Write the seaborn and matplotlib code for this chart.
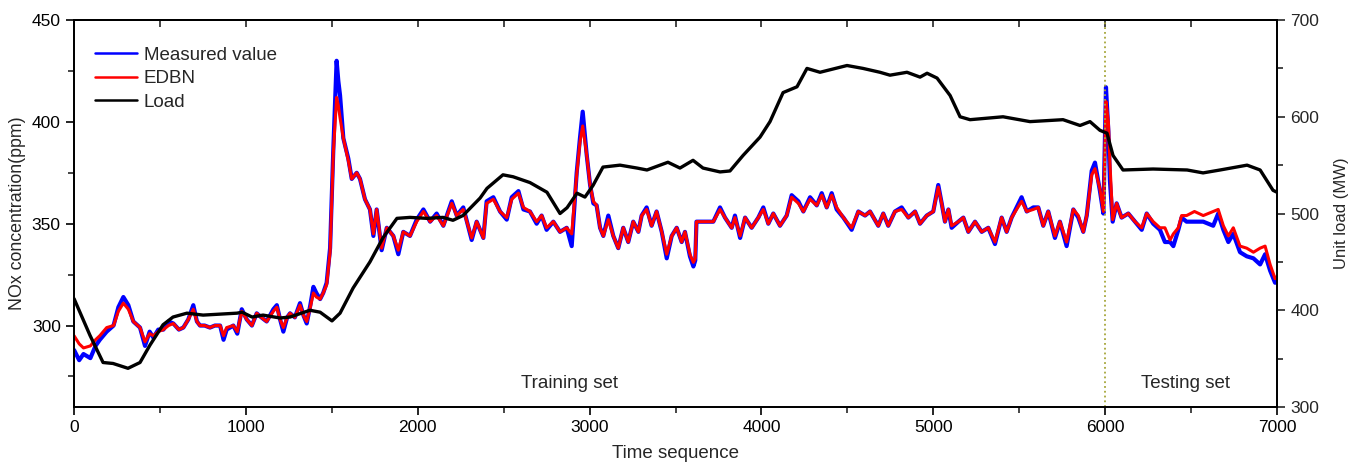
import numpy as np
import pandas as pd
import matplotlib
matplotlib.use("Agg")
import matplotlib.pyplot as plt
from matplotlib.ticker import MultipleLocator
from matplotlib.lines import Line2D
import seaborn as sns

# ---------------- data ----------------
nox_time = [0, 30, 55, 95, 125, 150, 190, 230, 258, 287, 316, 345, 384, 413, 440, 462, 490, 520,
            550, 578, 610, 636, 665, 694, 715, 733, 760, 791, 820, 850, 870, 888, 927, 950, 976,
            1005, 1035, 1063, 1090, 1121, 1160, 1180, 1199, 1218, 1240, 1257, 1285, 1315, 1335,
            1354, 1375, 1393, 1410, 1432, 1450, 1470, 1490, 1509, 1528, 1538, 1548, 1567, 1596,
            1616, 1645, 1664, 1693, 1722, 1742, 1761, 1790, 1820, 1858, 1887, 1916, 1955, 1994,
            2033, 2072, 2110, 2149, 2198, 2227, 2265, 2314, 2343, 2382, 2401, 2440, 2479, 2518,
            2547, 2586, 2615, 2653, 2692, 2721, 2750, 2789, 2828, 2867, 2896, 2925, 2944, 2960,
            2983, 3003, 3022, 3041, 3061, 3080, 3109, 3138, 3167, 3196, 3225, 3254, 3284, 3303,
            3332, 3361, 3390, 3420, 3449, 3478, 3507, 3536, 3555, 3584, 3604, 3615, 3622, 3662,
            3720, 3759, 3788, 3827, 3846, 3876, 3905, 3943, 3982, 4011, 4040, 4069, 4108, 4147,
            4176, 4215, 4244, 4283, 4322, 4351, 4380, 4409, 4438, 4477, 4525, 4564, 4603, 4632,
            4680, 4709, 4738, 4777, 4816, 4855, 4894, 4923, 4962, 5000, 5029, 5049, 5068, 5088,
            5107, 5146, 5175, 5204, 5243, 5282, 5320, 5359, 5398, 5427, 5456, 5485, 5514, 5544,
            5582, 5611, 5640, 5669, 5708, 5737, 5776, 5815, 5844, 5873, 5893, 5922, 5941, 5970,
            5990, 6005, 6019, 6028, 6044, 6067, 6096, 6135, 6174, 6213, 6242, 6280, 6319, 6348,
            6378, 6397, 6426, 6445, 6474, 6520, 6571, 6629, 6658, 6688, 6717, 6746, 6785, 6824,
            6863, 6902, 6931, 6960, 6989, 7000]

nox_measured = [288, 283, 286, 284, 290, 293, 297, 300, 309, 314, 310, 302, 299, 290, 297, 294, 298, 298,
                302, 301, 298, 299, 303, 310, 302, 300, 300, 299, 300, 300, 293, 298, 300, 296, 308,
                303, 300, 306, 304, 302, 308, 310, 303, 297, 304, 306, 304, 311, 305,
                301, 310, 319, 316, 313, 316, 321, 338, 387, 430, 420, 413, 392, 382,
                372, 375, 372, 362, 357, 344, 357, 337, 348, 344, 335, 346, 344, 352,
                357, 351, 355, 349, 361, 354, 358, 342, 351, 343, 361, 363, 356, 352,
                363, 366, 357, 356, 350, 354, 347, 351, 346, 348, 339, 375, 392, 405,
                384, 369, 360, 359, 348, 344, 354, 344, 338, 348, 341, 351, 346, 354,
                358, 349, 356, 346, 333, 344, 348, 341, 346, 334, 329, 332, 351, 351,
                351, 358, 353, 348, 354, 343, 353, 348, 353, 358, 350, 355, 349, 354,
                364, 361, 356, 363, 359, 365, 358, 365, 357, 353, 347, 356, 354, 356,
                349, 355, 349, 356, 358, 353, 356, 350, 354, 356, 369, 360, 351, 357,
                348, 351, 353, 346, 351, 346, 348, 340, 353, 346, 353, 358, 363, 356,
                358, 358, 349, 356, 343, 351, 339, 357, 353, 346, 354, 376, 380, 366,
                355, 417, 395, 371, 351, 360, 353, 355, 351, 347, 355, 350, 347, 341,
                341, 339, 347, 353, 351, 351, 351, 349, 355, 347, 341, 345, 336, 334,
                333, 330, 335, 327, 321, 322]

nox_edbn = [295, 291, 289, 290, 293, 295, 299, 300, 307, 311, 308, 302, 299, 292, 296, 295, 297, 298,
            300, 301, 298, 299, 303, 308, 302, 300, 300, 299, 300, 300, 295, 299, 300, 297, 307,
            303, 300, 306, 304, 302, 307, 309, 303, 299, 304, 306, 304, 310, 305,
            302, 309, 316, 314, 313, 316, 320, 336, 385, 412, 408, 402, 392, 381,
            372, 375, 372, 362, 357, 345, 357, 338, 348, 344, 337, 346, 344, 351,
            356, 351, 354, 349, 360, 354, 357, 343, 351, 343, 360, 362, 356, 353,
            362, 365, 358, 356, 351, 354, 348, 351, 346, 348, 345, 374, 390, 398,
            384, 369, 361, 359, 348, 344, 352, 344, 338, 348, 341, 351, 346, 354,
            357, 349, 356, 346, 335, 344, 348, 341, 346, 335, 331, 333, 351, 351,
            351, 357, 353, 348, 353, 344, 353, 348, 353, 357, 350, 355, 349, 354,
            363, 360, 356, 362, 359, 364, 358, 364, 358, 353, 348, 356, 354, 356,
            349, 355, 349, 356, 357, 353, 356, 350, 354, 356, 368, 360, 351, 357,
            349, 351, 353, 346, 351, 346, 348, 341, 353, 346, 353, 357, 361, 356,
            357, 358, 349, 356, 344, 351, 341, 357, 354, 346, 354, 374, 377, 367,
            356, 410, 400, 380, 352, 360, 353, 355, 351, 348, 355, 351, 348, 348,
            342, 345, 348, 354, 354, 356, 354, 356, 357, 349, 344, 348, 339, 338,
            336, 338, 339, 330, 323, 324]

load_time = [0, 93, 169, 227, 314, 384, 442, 518, 576, 657, 751, 948, 978, 1036, 1100, 1199, 1257,
             1373, 1432, 1501, 1548, 1624, 1722, 1798, 1879, 1955, 2054, 2147, 2205, 2264, 2363,
             2403, 2496, 2555, 2653, 2752, 2828, 2869, 2927, 2973, 3020, 3078, 3177, 3276, 3334,
             3456, 3526, 3602, 3660, 3759, 3817, 3893, 3992, 4050, 4126, 4180, 4207, 4265, 4341,
             4498, 4591, 4690, 4748, 4847, 4923, 4964, 5022, 5098, 5156, 5214, 5406, 5563, 5755,
             5854, 5912, 5970, 6011, 6046, 6104, 6279, 6477, 6570, 6669, 6826, 6902, 6977, 7000]
load_values = [412, 374, 346, 345, 340, 346, 364, 385, 393, 397, 395, 397, 398, 393, 395, 392, 393,
               400, 398, 389, 397, 423, 450, 475, 495, 496, 495, 496, 493, 498, 516,
               526, 540, 538, 532, 522, 500, 506, 521, 517, 529, 548, 550, 547, 545,
               553, 547, 555, 547, 543, 544, 560, 579, 595, 625, 629, 631, 650, 646,
               653, 650, 646, 643, 646, 641, 645, 640, 622, 600, 597, 600, 595, 597,
               591, 595, 586, 583, 560, 545, 546, 545, 542, 545, 550, 545, 524, 522]

series_labels = ["Measured value", "EDBN", "Load"]
split_time = 6000
region_labels = ["Training set", "Testing set"]

# ---------------- figure ----------------
sns.set_style("ticks")
plt.rcParams["font.family"] = ["Liberation Sans", "DejaVu Sans"]

fig = plt.figure(figsize=(13.51, 4.66), dpi=100)
ax = fig.add_axes([0.0548, 0.1266, 0.8904, 0.8304])
ax2 = ax.twinx()

nox_df = pd.DataFrame({"t": nox_time, "measured": nox_measured, "edbn": nox_edbn})
load_df = pd.DataFrame({"t": load_time, "load": load_values})

sns.lineplot(data=nox_df, x="t", y="measured", ax=ax, color="#0000ff", lw=3.0,
             estimator=None, sort=False, legend=False)
sns.lineplot(data=nox_df, x="t", y="edbn", ax=ax, color="#ff0000", lw=2.2,
             estimator=None, sort=False, legend=False)
sns.lineplot(data=load_df, x="t", y="load", ax=ax2, color="black", lw=2.4,
             estimator=None, sort=False, legend=False)

ax.axvline(split_time, color="#a6a63a", ls=":", lw=1.3)

ax.set_xlim(0, 7000)
ax.set_ylim(260, 450)
ax2.set_ylim(300, 700)

ax.xaxis.set_major_locator(MultipleLocator(1000))
ax.xaxis.set_minor_locator(MultipleLocator(500))
ax.yaxis.set_major_locator(MultipleLocator(50))
ax.yaxis.set_minor_locator(MultipleLocator(25))
ax2.yaxis.set_major_locator(MultipleLocator(100))
ax2.yaxis.set_minor_locator(MultipleLocator(50))

for a in (ax, ax2):
    for s in a.spines.values():
        s.set_linewidth(1.3)
        s.set_color("black")

ax.tick_params(axis="both", which="major", direction="out", length=6, width=1.2,
               labelsize=12.5, colors="black")
ax.tick_params(axis="both", which="minor", direction="out", length=4, width=1.2)
ax2.tick_params(axis="y", which="major", direction="out", length=6, width=1.2, labelsize=12.5)
ax2.tick_params(axis="y", which="minor", direction="out", length=4, width=1.2)

top = ax.secondary_xaxis("top")
top.xaxis.set_major_locator(MultipleLocator(500))
top.tick_params(axis="x", direction="in", length=5, width=1.2, labeltop=False)
top.spines["top"].set_linewidth(1.3)

ax.set_xlabel("Time sequence", fontsize=13.5, labelpad=7)
ax.set_ylabel("NOx concentration(ppm)", fontsize=12.8, labelpad=4)
ax2.set_ylabel("Unit load (MW)", fontsize=12.0, labelpad=11)

ax.text(2886, 271.5, region_labels[0], fontsize=13.5, ha="center", va="center")
ax.text(6465, 271.5, region_labels[1], fontsize=13.5, ha="center", va="center")

handles = [Line2D([], [], color="#0000ff", lw=1.8),
           Line2D([], [], color="#ff0000", lw=1.8),
           Line2D([], [], color="black", lw=1.8)]
ax2.legend(handles, series_labels, loc="upper left", bbox_to_anchor=(0.008, 0.96),
           frameon=False, fontsize=13.5, handlelength=2.25, handletextpad=0.35,
           labelspacing=0.33, borderaxespad=0.2)

fig.savefig("out.png", dpi=100)
